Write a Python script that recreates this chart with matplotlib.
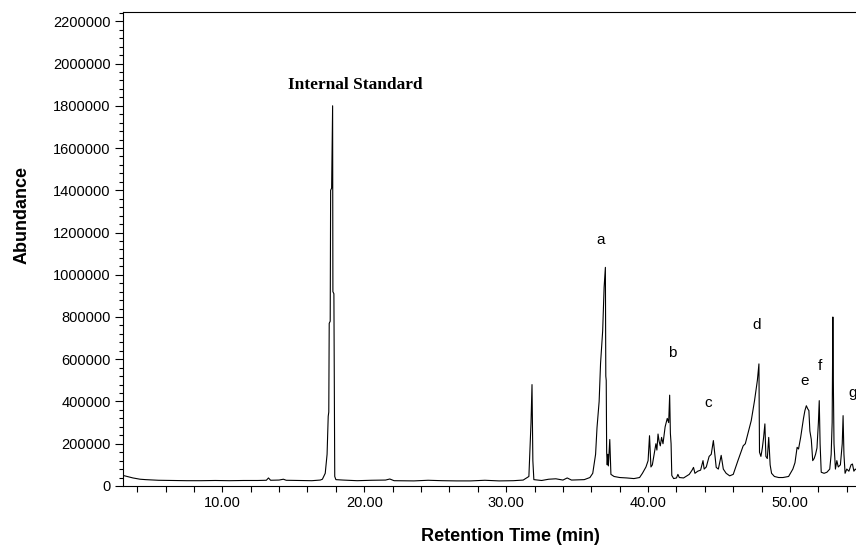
import matplotlib
matplotlib.use("Agg")
import matplotlib.pyplot as plt
from matplotlib.ticker import MultipleLocator, FixedLocator, FuncFormatter

# Retention time (min) and abundance
time = [3.0, 3.3, 3.7, 4.2, 4.6, 5.5, 6.5, 7.5, 8.5, 9.5, 10.5, 11.5, 12.5, 13.1, 13.25, 13.4,
        14.0, 14.3, 14.5, 15.5, 16.3, 16.9, 17.05, 17.25, 17.38, 17.46, 17.50, 17.53, 17.60,
        17.63, 17.70, 17.77, 17.79, 17.86, 17.92, 18.0, 18.5, 19.5, 20.5, 21.5, 21.8, 22.1,
        23.5, 24.5, 25.5, 26.5, 27.5, 28.5, 29.5, 30.5, 31.2, 31.6, 31.75, 31.82, 31.88, 31.95,
        32.5, 33.0, 33.5, 34.0, 34.3, 34.6, 35.5, 35.9, 36.1, 36.3, 36.4, 36.55, 36.65, 36.8,
        36.9, 36.99, 37.02, 37.05, 37.08, 37.12, 37.16, 37.2, 37.3, 37.38, 37.6, 38.0, 38.5,
        39.0, 39.4, 39.6, 39.85, 40.0, 40.1, 40.2, 40.3, 40.45, 40.55, 40.62, 40.7, 40.78,
        40.86, 40.95, 41.05, 41.2, 41.35, 41.45, 41.52, 41.57, 41.62, 41.67, 41.8, 42.0, 42.1,
        42.2, 42.5, 42.9, 43.1, 43.2, 43.3, 43.5, 43.7, 43.87, 43.95, 44.1, 44.3, 44.45, 44.6,
        44.7, 44.8, 44.95, 45.15, 45.3, 45.5, 45.75, 46.0, 46.33, 46.6, 46.7, 46.85, 47.0,
        47.27, 47.5, 47.7, 47.81, 47.85, 47.95, 48.05, 48.14, 48.23, 48.3, 48.4, 48.5, 48.6,
        48.7, 48.9, 49.2, 49.5, 49.9, 50.2, 50.35, 50.5, 50.6, 50.75, 50.86, 50.95, 51.05,
        51.15, 51.25, 51.33, 51.4, 51.5, 51.6, 51.7, 51.8, 51.9, 52.0, 52.06, 52.12, 52.2,
        52.4, 52.6, 52.8, 52.9, 52.97, 53.02, 53.06, 53.1, 53.2, 53.3, 53.4, 53.55, 53.68,
        53.74, 53.8, 53.88, 54.0, 54.15, 54.3, 54.4, 54.5, 54.6, 54.7]
abundance = [50000, 45000, 38000, 32000, 30000, 27000, 26000, 25000, 25000, 26000, 25000, 26000,
             26000, 27000, 38000, 27000, 28000, 32000, 27000, 26000, 25000, 28000, 32000, 60000,
             150000, 330000, 350000, 770000, 780000, 1400000, 1410000, 1800000, 920000, 910000,
             45000, 30000, 28000, 25000, 27000, 28000, 33000, 25000, 24000, 27000, 25000, 24000,
             24000, 27000, 24000, 25000, 28000, 45000, 300000, 480000, 120000, 30000, 26000,
             32000, 34000, 28000, 38000, 28000, 30000, 40000, 60000, 150000, 276000, 400000,
             580000, 735000, 940000, 1035000, 520000, 500000, 160000, 100000, 150000, 95000,
             220000, 55000, 45000, 40000, 38000, 35000, 40000, 60000, 90000, 120000, 238000,
             90000, 100000, 160000, 200000, 170000, 246000, 210000, 190000, 230000, 200000,
             280000, 320000, 300000, 430000, 250000, 200000, 50000, 35000, 38000, 55000, 40000,
             38000, 55000, 75000, 88000, 60000, 70000, 75000, 120000, 80000, 90000, 140000,
             150000, 215000, 150000, 88000, 80000, 145000, 80000, 60000, 48000, 55000, 120000,
             170000, 190000, 200000, 240000, 310000, 404000, 500000, 578000, 160000, 140000,
             180000, 230000, 294000, 140000, 130000, 230000, 100000, 60000, 45000, 40000, 40000,
             45000, 80000, 110000, 183000, 175000, 230000, 278000, 320000, 357000, 380000,
             365000, 357000, 260000, 220000, 120000, 130000, 150000, 180000, 300000, 404000,
             200000, 65000, 60000, 65000, 80000, 150000, 300000, 800000, 450000, 200000, 80000,
             120000, 90000, 100000, 200000, 333000, 150000, 60000, 80000, 70000, 100000, 104000,
             70000, 80000, 75000]

peak_labels = ["a", "b", "c", "d", "e", "f", "g"]
label_x = [36.66, 41.73, 44.2, 47.65, 51.03, 52.1, 54.4]
label_y = [1165000, 630000, 393000, 762000, 497000, 568000, 440000]

standard_label = "Internal Standard"
standard_x = 19.34
standard_y = 1900000

x_major = [10, 20, 30, 40, 50]
y_major = list(range(0, 2200001, 200000))

fig = plt.figure(figsize=(8.56, 5.45), dpi=100)
ax = fig.add_axes([0.1437, 0.1083, 0.8563, 0.8697])

ax.plot(time, abundance, color="black", linewidth=0.8)

ax.set_xlim(3.0, 54.65)
ax.set_ylim(0, 2244000)

ax.xaxis.set_major_locator(FixedLocator(x_major))
ax.xaxis.set_minor_locator(MultipleLocator(2))
ax.xaxis.set_major_formatter(FuncFormatter(lambda v, p: f"{v:.2f}"))
ax.yaxis.set_major_locator(FixedLocator(y_major))
ax.yaxis.set_minor_locator(MultipleLocator(40000))
ax.yaxis.set_major_formatter(FuncFormatter(lambda v, p: f"{int(v)}"))

ax.tick_params(axis="x", which="both", direction="out", length=4.5, width=0.8,
               labelsize=10.5, pad=3)
ax.tick_params(axis="y", which="major", direction="out", length=6, width=0.8,
               labelsize=10.5, pad=3)
ax.tick_params(axis="y", which="minor", direction="out", length=3.2, width=0.8)
for lab in ax.get_xticklabels() + ax.get_yticklabels():
    lab.set_fontfamily("Liberation Sans")

ax.spines["right"].set_visible(False)
for s in ["left", "bottom", "top"]:
    ax.spines[s].set_linewidth(0.8)

for lab, x, y in zip(peak_labels, label_x, label_y):
    ax.text(x, y, lab, ha="center", va="center", fontsize=11, family="Liberation Sans")

ax.text(standard_x, standard_y, standard_label, ha="center", va="center",
        fontsize=12.5, fontweight="bold", family="Liberation Serif")

fig.text(510 / 856, 1 - 536.7 / 545, "Retention Time (min)", ha="center", va="center",
         fontsize=13, fontweight="bold", family="Liberation Sans")
fig.text(21.7 / 856, 1 - 215 / 545, "Abundance", ha="center", va="center", rotation=90,
         fontsize=13, fontweight="bold", family="Liberation Sans")

fig.savefig("out.png", dpi=100)
